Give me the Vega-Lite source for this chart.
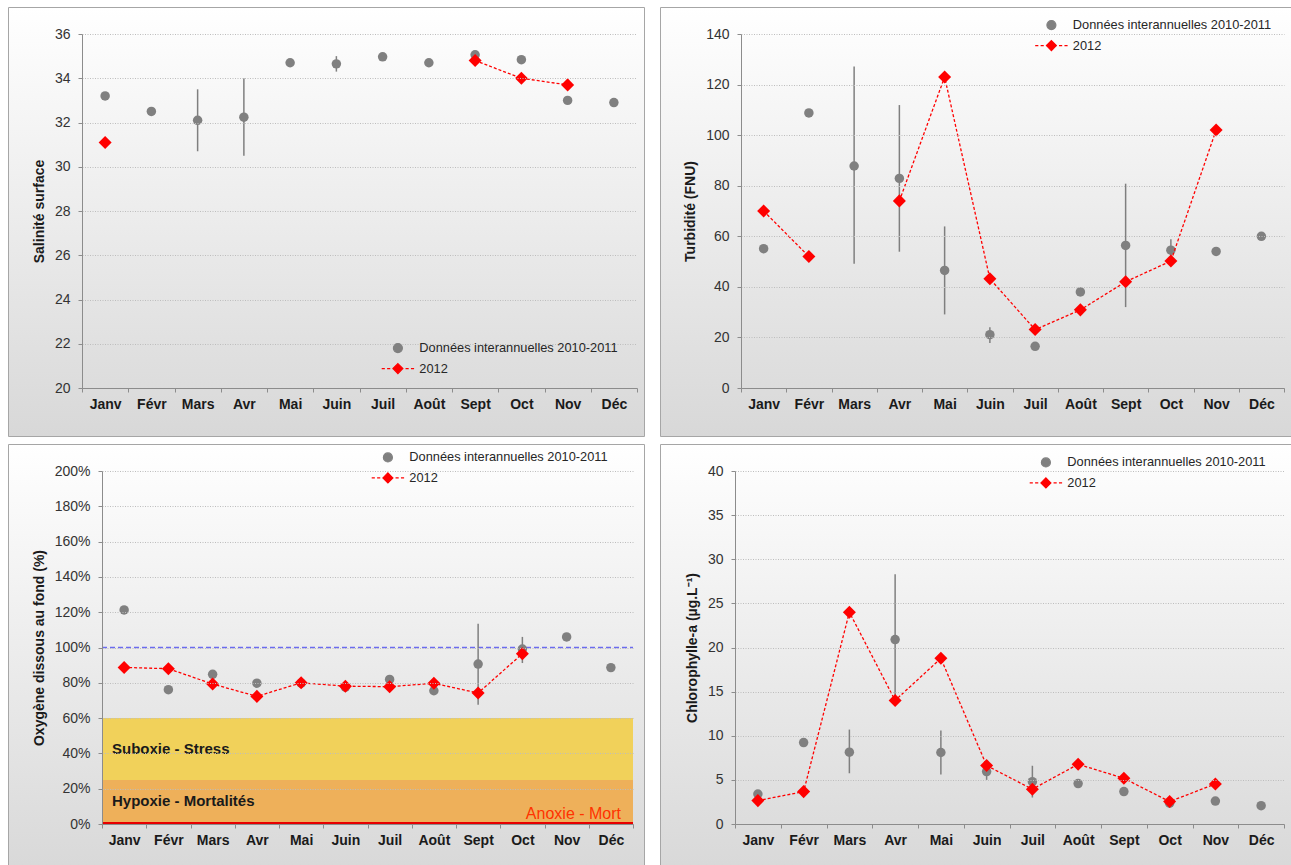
{
  "$schema": "https://vega.github.io/schema/vega-lite/v6.json",
  "background": "white",
  "padding": {"left": 7, "top": 6, "right": 0, "bottom": 0},
  "spacing": 6,
  "resolve": {"scale": {"color": "independent", "stroke": "independent", "shape": "independent"}, "legend": {"color": "independent", "stroke": "independent", "shape": "independent"}},
  "config": {
    "font": "Liberation Sans",
    "view": {"stroke": "#a6a6a6", "strokeWidth": 1},
    "axis": {"labelFont": "Liberation Sans", "titleFont": "Liberation Sans"},
    "legend": {"labelFont": "Liberation Sans"},
    "concat": {"spacing": 14}
  },
  "datasets": {
    "leg": [{"k": "Données interannuelles 2010-2011"}, {"k": "2012"}],
    "sal": [
      {"m": "Janv", "g": 33.2, "lo": null, "hi": null, "r": 31.1},
      {"m": "Févr", "g": 32.5, "lo": null, "hi": null, "r": null},
      {"m": "Mars", "g": 32.1, "lo": 30.7, "hi": 33.5, "r": null},
      {"m": "Avr", "g": 32.24, "lo": 30.5, "hi": 34.0, "r": null},
      {"m": "Mai", "g": 34.7, "lo": null, "hi": null, "r": null},
      {"m": "Juin", "g": 34.65, "lo": 34.3, "hi": 35.0, "r": null},
      {"m": "Juil", "g": 34.97, "lo": null, "hi": null, "r": null},
      {"m": "Août", "g": 34.7, "lo": null, "hi": null, "r": null},
      {"m": "Sept", "g": 35.06, "lo": 34.9, "hi": 35.2, "r": 34.8},
      {"m": "Oct", "g": 34.84, "lo": null, "hi": null, "r": 34.0},
      {"m": "Nov", "g": 33.0, "lo": null, "hi": null, "r": 33.7},
      {"m": "Déc", "g": 32.9, "lo": null, "hi": null, "r": null}
    ],
    "turb": [
      {"m": "Janv", "g": 55.1, "lo": null, "hi": null, "r": 70},
      {"m": "Févr", "g": 108.8, "lo": null, "hi": null, "r": 52},
      {"m": "Mars", "g": 87.8, "lo": 49.1, "hi": 127.1, "r": null},
      {"m": "Avr", "g": 82.9, "lo": 53.9, "hi": 111.9, "r": 74},
      {"m": "Mai", "g": 46.5, "lo": 29.1, "hi": 63.9, "r": 123},
      {"m": "Juin", "g": 21.1, "lo": 17.8, "hi": 24.0, "r": 43.2},
      {"m": "Juil", "g": 16.5, "lo": null, "hi": null, "r": 23.1},
      {"m": "Août", "g": 38.0, "lo": null, "hi": null, "r": 30.9},
      {"m": "Sept", "g": 56.4, "lo": 32.0, "hi": 80.8, "r": 42.0},
      {"m": "Oct", "g": 54.5, "lo": 50.2, "hi": 58.8, "r": 50.2},
      {"m": "Nov", "g": 54.0, "lo": null, "hi": null, "r": 102},
      {"m": "Déc", "g": 60.0, "lo": null, "hi": null, "r": null}
    ],
    "oxy": [
      {"m": "Janv", "g": 121.3, "lo": null, "hi": null, "r": 88.7},
      {"m": "Févr", "g": 76.1, "lo": null, "hi": null, "r": 88.0},
      {"m": "Mars", "g": 84.8, "lo": null, "hi": null, "r": 79.3},
      {"m": "Avr", "g": 79.8, "lo": null, "hi": null, "r": 72.3},
      {"m": "Mai", "g": 79.8, "lo": null, "hi": null, "r": 80.0},
      {"m": "Juin", "g": 77.6, "lo": null, "hi": null, "r": 78.1},
      {"m": "Juil", "g": 81.9, "lo": null, "hi": null, "r": 77.8},
      {"m": "Août", "g": 75.5, "lo": null, "hi": null, "r": 79.7},
      {"m": "Sept", "g": 90.6, "lo": 67.5, "hi": 113.5, "r": 74.2},
      {"m": "Oct", "g": 99.1, "lo": 91.2, "hi": 106.0, "r": 96.5},
      {"m": "Nov", "g": 106.0, "lo": null, "hi": null, "r": null},
      {"m": "Déc", "g": 88.6, "lo": null, "hi": null, "r": null}
    ],
    "chl": [
      {"m": "Janv", "g": 3.4, "lo": null, "hi": null, "r": 2.65},
      {"m": "Févr", "g": 9.23, "lo": null, "hi": null, "r": 3.67},
      {"m": "Mars", "g": 8.14, "lo": 5.75, "hi": 10.7, "r": 24.0},
      {"m": "Avr", "g": 20.9, "lo": 13.6, "hi": 28.3, "r": 14.0},
      {"m": "Mai", "g": 8.1, "lo": 5.6, "hi": 10.6, "r": 18.77},
      {"m": "Juin", "g": 5.94, "lo": 5.0, "hi": 6.9, "r": 6.62},
      {"m": "Juil", "g": 4.8, "lo": 3.0, "hi": 6.6, "r": 3.94},
      {"m": "Août", "g": 4.58, "lo": null, "hi": null, "r": 6.77},
      {"m": "Sept", "g": 3.67, "lo": null, "hi": null, "r": 5.18},
      {"m": "Oct", "g": 2.35, "lo": null, "hi": null, "r": 2.54},
      {"m": "Nov", "g": 2.6, "lo": null, "hi": null, "r": 4.54},
      {"m": "Déc", "g": 2.08, "lo": null, "hi": null, "r": null}
    ]
  },
  "vconcat": [
    {
      "resolve": {"scale": {"color": "independent", "stroke": "independent", "shape": "independent"}, "legend": {"color": "independent", "stroke": "independent", "shape": "independent"}},
      "hconcat": [
        {
          "width": 636, "height": 429,
          "view": {"stroke": "#a6a6a6", "fill": {"gradient": "linear", "x1": 0, "y1": 0, "x2": 0, "y2": 1, "stops": [{"offset": 0, "color": "#ffffff"}, {"offset": 1, "color": "#d8d8d8"}]}},
          "layer": [
            {
              "data": {"name": "sal"},
              "mark": {"type": "rule", "color": "#7f7f7f", "strokeWidth": 1.5},
              "encoding": {
                "x": {"field": "m", "type": "ordinal", "sort": null, "scale": {"type": "band", "domain": ["Janv","Févr","Mars","Avr","Mai","Juin","Juil","Août","Sept","Oct","Nov","Déc"], "range": [74, 629], "paddingInner": 0, "paddingOuter": 0},
                  "axis": {"zindex": 1, "orient": "bottom", "offset": -48, "tickBand": "extent", "labelAngle": 0, "labelFontSize": 14, "labelFontWeight": "bold", "labelColor": "#1a1a1a", "tickSize": 4, "tickColor": "#8c8c8c", "domainColor": "#8c8c8c", "labelPadding": 5, "title": null, "grid": false}},
                "y": {"field": "lo", "type": "quantitative", "scale": {"domain": [20, 36], "range": [381, 27], "nice": false, "zero": false},
                  "axis": {"zindex": 1, "orient": "left", "offset": -74, "values": [20,21,22,23,24,25,26,27,28,29,30,31,32,33,34,35,36], "labelExpr": "datum.value % 2 === 0 ? datum.value : ''", "labelOverlap": false, "labelFontSize": 14, "labelColor": "#333333", "tickSize": 4, "tickColor": "#8c8c8c", "domainColor": "#8c8c8c", "labelPadding": 8, "grid": true, "gridColor": "#bdbdbd", "gridDash": [1, 1.5], "gridOpacity": {"condition": {"test": "datum.value % 2 === 0", "value": 1}, "value": 0}, "title": "Salinité surface", "titleFontSize": 14, "titleFontWeight": "bold", "titleColor": "#1a1a1a", "titlePadding": 8}},
                "y2": {"field": "hi"}
              }
            },
            {
              "data": {"name": "leg"},
              "mark": {"type": "point", "filled": true, "size": 81, "strokeWidth": 1.2, "opacity": 1},
              "encoding": {
                "y": {"field": "none", "type": "quantitative"},
                "color": {"field": "k", "type": "nominal", "scale": {"domain": ["Données interannuelles 2010-2011", "2012"], "range": ["#808080", "#ff0000"]}, "legend": {"orient": "none", "legendX": 383.5, "legendY": 334.7, "title": null, "padding": 0, "labelFontSize": 12.8, "labelColor": "#262626", "labelOffset": 15, "labelLimit": 0, "rowPadding": 5.5, "symbolSize": 81, "symbolStrokeWidth": 1.2, "zindex": 1}},
                "stroke": {"field": "k", "type": "nominal", "scale": {"domain": ["Données interannuelles 2010-2011", "2012"], "range": ["#808080", "#ff0000"]}, "legend": {"orient": "none", "legendX": 383.5, "legendY": 334.7, "title": null, "padding": 0, "labelFontSize": 12.8, "labelColor": "#262626", "labelOffset": 15, "labelLimit": 0, "rowPadding": 5.5, "symbolSize": 81, "symbolStrokeWidth": 1.2, "zindex": 1}},
                "shape": {"field": "k", "type": "nominal", "scale": {"domain": ["Données interannuelles 2010-2011", "2012"], "range": ["circle", "M-3.6,0H-2.9M-2.4,0H-1.7M-1.2,0H-0.6M0.6,0H1.2M1.7,0H2.4M2.9,0H3.6M0,-1.1L1.1,0L0,1.1L-1.1,0Z"]}, "legend": {"orient": "none", "legendX": 383.5, "legendY": 334.7, "title": null, "padding": 0, "labelFontSize": 12.8, "labelColor": "#262626", "labelOffset": 15, "labelLimit": 0, "rowPadding": 5.5, "symbolSize": 81, "symbolStrokeWidth": 1.2, "zindex": 1}}
              }
            },
            {
              "data": {"name": "sal"},
              "mark": {"type": "point", "filled": true, "shape": "circle", "size": 90, "opacity": 1, "color": "#808080"},
              "encoding": {
                "x": {"field": "m", "type": "ordinal", "sort": null},
                "y": {"field": "g", "type": "quantitative"}
              }
            },
            {
              "data": {"name": "sal"},
              "mark": {"type": "line", "color": "#ff0000", "strokeWidth": 1.3, "strokeDash": [3, 2], "invalid": "break-paths-show-domains"},
              "encoding": {
                "x": {"field": "m", "type": "ordinal", "sort": null},
                "y": {"field": "r", "type": "quantitative"}
              }
            },
            {
              "data": {"name": "sal"},
              "mark": {"type": "point", "filled": true, "shape": "diamond", "size": 170, "opacity": 1, "color": "#ff0000"},
              "encoding": {
                "x": {"field": "m", "type": "ordinal", "sort": null},
                "y": {"field": "r", "type": "quantitative"}
              }
            }
          ]
        },
        {
          "width": 634, "height": 429,
          "view": {"stroke": "#a6a6a6", "fill": {"gradient": "linear", "x1": 0, "y1": 0, "x2": 0, "y2": 1, "stops": [{"offset": 0, "color": "#ffffff"}, {"offset": 1, "color": "#d8d8d8"}]}},
          "layer": [
            {
              "data": {"name": "turb"},
              "mark": {"type": "rule", "color": "#7f7f7f", "strokeWidth": 1.5},
              "encoding": {
                "x": {"field": "m", "type": "ordinal", "sort": null, "scale": {"type": "band", "domain": ["Janv","Févr","Mars","Avr","Mai","Juin","Juil","Août","Sept","Oct","Nov","Déc"], "range": [81, 624], "paddingInner": 0, "paddingOuter": 0},
                  "axis": {"zindex": 1, "orient": "bottom", "offset": -48, "tickBand": "extent", "labelAngle": 0, "labelFontSize": 14, "labelFontWeight": "bold", "labelColor": "#1a1a1a", "tickSize": 4, "tickColor": "#8c8c8c", "domainColor": "#8c8c8c", "labelPadding": 5, "title": null, "grid": false}},
                "y": {"field": "lo", "type": "quantitative", "scale": {"domain": [0, 140], "range": [381, 27], "nice": false, "zero": false},
                  "axis": {"zindex": 1, "orient": "left", "offset": -81, "values": [0,10,20,30,40,50,60,70,80,90,100,110,120,130,140], "labelExpr": "datum.value % 20 === 0 ? datum.value : ''", "labelOverlap": false, "labelFontSize": 14, "labelColor": "#333333", "tickSize": 4, "tickColor": "#8c8c8c", "domainColor": "#8c8c8c", "labelPadding": 8, "grid": true, "gridColor": "#bdbdbd", "gridDash": [1, 1.5], "gridOpacity": {"condition": {"test": "datum.value % 20 === 0", "value": 1}, "value": 0}, "title": "Turbidité (FNU)", "titleFontSize": 14, "titleFontWeight": "bold", "titleColor": "#1a1a1a", "titlePadding": 8}},
                "y2": {"field": "hi"}
              }
            },
            {
              "data": {"name": "leg"},
              "mark": {"type": "point", "filled": true, "size": 81, "strokeWidth": 1.2, "opacity": 1},
              "encoding": {
                "y": {"field": "none", "type": "quantitative"},
                "color": {"field": "k", "type": "nominal", "scale": {"domain": ["Données interannuelles 2010-2011", "2012"], "range": ["#808080", "#ff0000"]}, "legend": {"orient": "none", "legendX": 385, "legendY": 11.7, "title": null, "padding": 0, "labelFontSize": 12.8, "labelColor": "#262626", "labelOffset": 15, "labelLimit": 0, "rowPadding": 5.5, "symbolSize": 81, "symbolStrokeWidth": 1.2, "zindex": 1}},
                "stroke": {"field": "k", "type": "nominal", "scale": {"domain": ["Données interannuelles 2010-2011", "2012"], "range": ["#808080", "#ff0000"]}, "legend": {"orient": "none", "legendX": 385, "legendY": 11.7, "title": null, "padding": 0, "labelFontSize": 12.8, "labelColor": "#262626", "labelOffset": 15, "labelLimit": 0, "rowPadding": 5.5, "symbolSize": 81, "symbolStrokeWidth": 1.2, "zindex": 1}},
                "shape": {"field": "k", "type": "nominal", "scale": {"domain": ["Données interannuelles 2010-2011", "2012"], "range": ["circle", "M-3.6,0H-2.9M-2.4,0H-1.7M-1.2,0H-0.6M0.6,0H1.2M1.7,0H2.4M2.9,0H3.6M0,-1.1L1.1,0L0,1.1L-1.1,0Z"]}, "legend": {"orient": "none", "legendX": 385, "legendY": 11.7, "title": null, "padding": 0, "labelFontSize": 12.8, "labelColor": "#262626", "labelOffset": 15, "labelLimit": 0, "rowPadding": 5.5, "symbolSize": 81, "symbolStrokeWidth": 1.2, "zindex": 1}}
              }
            },
            {
              "data": {"name": "turb"},
              "mark": {"type": "point", "filled": true, "shape": "circle", "size": 90, "opacity": 1, "color": "#808080"},
              "encoding": {
                "x": {"field": "m", "type": "ordinal", "sort": null},
                "y": {"field": "g", "type": "quantitative"}
              }
            },
            {
              "data": {"name": "turb"},
              "mark": {"type": "line", "color": "#ff0000", "strokeWidth": 1.3, "strokeDash": [3, 2], "invalid": "break-paths-show-domains"},
              "encoding": {
                "x": {"field": "m", "type": "ordinal", "sort": null},
                "y": {"field": "r", "type": "quantitative"}
              }
            },
            {
              "data": {"name": "turb"},
              "mark": {"type": "point", "filled": true, "shape": "diamond", "size": 170, "opacity": 1, "color": "#ff0000"},
              "encoding": {
                "x": {"field": "m", "type": "ordinal", "sort": null},
                "y": {"field": "r", "type": "quantitative"}
              }
            }
          ]
        }
      ]
    },
    {
      "resolve": {"scale": {"color": "independent", "stroke": "independent", "shape": "independent"}, "legend": {"color": "independent", "stroke": "independent", "shape": "independent"}},
      "hconcat": [
        {
          "width": 636, "height": 430,
          "view": {"stroke": "#a6a6a6", "fill": {"gradient": "linear", "x1": 0, "y1": 0, "x2": 0, "y2": 1, "stops": [{"offset": 0, "color": "#ffffff"}, {"offset": 1, "color": "#d8d8d8"}]}},
          "layer": [
            {
              "data": {"name": "oxy"},
              "mark": {"type": "rule", "color": "#7f7f7f", "strokeWidth": 1.5, "opacity": 0},
              "encoding": {
                "x": {"field": "m", "type": "ordinal", "sort": null, "scale": {"type": "band", "domain": ["Janv","Févr","Mars","Avr","Mai","Juin","Juil","Août","Sept","Oct","Nov","Déc"], "range": [94, 625], "paddingInner": 0, "paddingOuter": 0},
                  "axis": {"zindex": 1, "orient": "bottom", "offset": -50, "tickBand": "extent", "labelAngle": 0, "labelFontSize": 14, "labelFontWeight": "bold", "labelColor": "#1a1a1a", "tickSize": 4, "tickColor": "#8c8c8c", "domainColor": "#8c8c8c", "labelPadding": 5, "title": null, "grid": false}},
                "y": {"field": "lo", "type": "quantitative", "scale": {"domain": [0, 200], "range": [380, 27], "nice": false, "zero": false},
                  "axis": {"zindex": 1, "orient": "left", "offset": -94, "values": [0,10,20,30,40,50,60,70,80,90,100,110,120,130,140,150,160,170,180,190,200], "labelExpr": "datum.value % 20 === 0 ? datum.value + '%' : ''", "labelOverlap": false, "labelFontSize": 14, "labelColor": "#333333", "tickSize": 4, "tickColor": "#8c8c8c", "domainColor": "#8c8c8c", "labelPadding": 8, "grid": true, "gridColor": "#bdbdbd", "gridDash": [1, 1.5], "gridOpacity": {"condition": {"test": "datum.value % 20 === 0", "value": 1}, "value": 0}, "title": "Oxygène dissous au fond (%)", "titleFontSize": 14, "titleFontWeight": "bold", "titleColor": "#1a1a1a", "titlePadding": 8}},
                "y2": {"field": "hi"}
              }
            },
            {
              "data": {"values": [{}]},
              "mark": {"type": "rect", "color": "#f1d15a"},
              "encoding": {
                "x": {"datum": "Janv", "type": "ordinal", "bandPosition": 0},
                "x2": {"datum": "Déc", "bandPosition": 1},
                "y": {"datum": 25, "type": "quantitative"},
                "y2": {"datum": 60}
              }
            },
            {
              "data": {"values": [{}]},
              "mark": {"type": "rect", "color": "#eeb05a"},
              "encoding": {
                "x": {"datum": "Janv", "type": "ordinal", "bandPosition": 0},
                "x2": {"datum": "Déc", "bandPosition": 1},
                "y": {"datum": 0, "type": "quantitative"},
                "y2": {"datum": 25}
              }
            },
            {
              "data": {"values": [{}]},
              "mark": {"type": "rect", "color": "#e80000"},
              "encoding": {
                "x": {"datum": "Janv", "type": "ordinal", "bandPosition": 0},
                "x2": {"datum": "Déc", "bandPosition": 1},
                "y": {"datum": 0, "type": "quantitative"},
                "y2": {"datum": 1.2}
              }
            },
            {
              "data": {"values": [{}]},
              "mark": {"type": "rule", "color": "#6b6bf0", "strokeWidth": 1.3, "strokeDash": [5, 3]},
              "encoding": {
                "x": {"datum": "Janv", "type": "ordinal", "bandPosition": 0},
                "x2": {"datum": "Déc", "bandPosition": 1},
                "y": {"datum": 100, "type": "quantitative"}
              }
            },
            {
              "data": {"values": [{}]},
              "mark": {"type": "text", "text": "Suboxie - Stress", "align": "left", "baseline": "middle", "dx": 10, "fontSize": 15, "fontWeight": "bold", "color": "#1a1a1a"},
              "encoding": {
                "x": {"datum": "Janv", "type": "ordinal", "bandPosition": 0},
                "y": {"datum": 42.4, "type": "quantitative"}
              }
            },
            {
              "data": {"values": [{}]},
              "mark": {"type": "text", "text": "Hypoxie - Mortalités", "align": "left", "baseline": "middle", "dx": 10, "fontSize": 15, "fontWeight": "bold", "color": "#1a1a1a"},
              "encoding": {
                "x": {"datum": "Janv", "type": "ordinal", "bandPosition": 0},
                "y": {"datum": 12.9, "type": "quantitative"}
              }
            },
            {
              "data": {"values": [{}]},
              "mark": {"type": "text", "text": "Anoxie - Mort", "align": "right", "baseline": "middle", "dx": -12, "fontSize": 16, "color": "#ff3300"},
              "encoding": {
                "x": {"datum": "Déc", "type": "ordinal", "bandPosition": 1},
                "y": {"datum": 5.5, "type": "quantitative"}
              }
            },
            {
              "data": {"name": "oxy"},
              "mark": {"type": "rule", "color": "#7f7f7f", "strokeWidth": 1.5},
              "encoding": {
                "x": {"field": "m", "type": "ordinal", "sort": null},
                "y": {"field": "lo", "type": "quantitative"},
                "y2": {"field": "hi"}
              }
            },
            {
              "data": {"name": "leg"},
              "mark": {"type": "point", "filled": true, "size": 81, "strokeWidth": 1.2, "opacity": 1},
              "encoding": {
                "y": {"field": "none", "type": "quantitative"},
                "color": {"field": "k", "type": "nominal", "scale": {"domain": ["Données interannuelles 2010-2011", "2012"], "range": ["#808080", "#ff0000"]}, "legend": {"orient": "none", "legendX": 373.5, "legendY": 7, "title": null, "padding": 0, "labelFontSize": 12.8, "labelColor": "#262626", "labelOffset": 15, "labelLimit": 0, "rowPadding": 5.5, "symbolSize": 81, "symbolStrokeWidth": 1.2, "zindex": 1}},
                "stroke": {"field": "k", "type": "nominal", "scale": {"domain": ["Données interannuelles 2010-2011", "2012"], "range": ["#808080", "#ff0000"]}, "legend": {"orient": "none", "legendX": 373.5, "legendY": 7, "title": null, "padding": 0, "labelFontSize": 12.8, "labelColor": "#262626", "labelOffset": 15, "labelLimit": 0, "rowPadding": 5.5, "symbolSize": 81, "symbolStrokeWidth": 1.2, "zindex": 1}},
                "shape": {"field": "k", "type": "nominal", "scale": {"domain": ["Données interannuelles 2010-2011", "2012"], "range": ["circle", "M-3.6,0H-2.9M-2.4,0H-1.7M-1.2,0H-0.6M0.6,0H1.2M1.7,0H2.4M2.9,0H3.6M0,-1.1L1.1,0L0,1.1L-1.1,0Z"]}, "legend": {"orient": "none", "legendX": 373.5, "legendY": 7, "title": null, "padding": 0, "labelFontSize": 12.8, "labelColor": "#262626", "labelOffset": 15, "labelLimit": 0, "rowPadding": 5.5, "symbolSize": 81, "symbolStrokeWidth": 1.2, "zindex": 1}}
              }
            },
            {
              "data": {"name": "oxy"},
              "mark": {"type": "point", "filled": true, "shape": "circle", "size": 90, "opacity": 1, "color": "#808080"},
              "encoding": {
                "x": {"field": "m", "type": "ordinal", "sort": null},
                "y": {"field": "g", "type": "quantitative"}
              }
            },
            {
              "data": {"name": "oxy"},
              "mark": {"type": "line", "color": "#ff0000", "strokeWidth": 1.3, "strokeDash": [3, 2], "invalid": "break-paths-show-domains"},
              "encoding": {
                "x": {"field": "m", "type": "ordinal", "sort": null},
                "y": {"field": "r", "type": "quantitative"}
              }
            },
            {
              "data": {"name": "oxy"},
              "mark": {"type": "point", "filled": true, "shape": "diamond", "size": 170, "opacity": 1, "color": "#ff0000"},
              "encoding": {
                "x": {"field": "m", "type": "ordinal", "sort": null},
                "y": {"field": "r", "type": "quantitative"}
              }
            }
          ]
        },
        {
          "width": 634, "height": 430,
          "view": {"stroke": "#a6a6a6", "fill": {"gradient": "linear", "x1": 0, "y1": 0, "x2": 0, "y2": 1, "stops": [{"offset": 0, "color": "#ffffff"}, {"offset": 1, "color": "#d8d8d8"}]}},
          "layer": [
            {
              "data": {"name": "chl"},
              "mark": {"type": "rule", "color": "#7f7f7f", "strokeWidth": 1.5},
              "encoding": {
                "x": {"field": "m", "type": "ordinal", "sort": null, "scale": {"type": "band", "domain": ["Janv","Févr","Mars","Avr","Mai","Juin","Juil","Août","Sept","Oct","Nov","Déc"], "range": [75, 624], "paddingInner": 0, "paddingOuter": 0},
                  "axis": {"zindex": 1, "orient": "bottom", "offset": -50, "tickBand": "extent", "labelAngle": 0, "labelFontSize": 14, "labelFontWeight": "bold", "labelColor": "#1a1a1a", "tickSize": 4, "tickColor": "#8c8c8c", "domainColor": "#8c8c8c", "labelPadding": 5, "title": null, "grid": false}},
                "y": {"field": "lo", "type": "quantitative", "scale": {"domain": [0, 40], "range": [380, 27], "nice": false, "zero": false},
                  "axis": {"zindex": 1, "orient": "left", "offset": -75, "values": [0,2.5,5,7.5,10,12.5,15,17.5,20,22.5,25,27.5,30,32.5,35,37.5,40], "labelExpr": "datum.value % 5 === 0 ? datum.value : ''", "labelOverlap": false, "labelFontSize": 14, "labelColor": "#333333", "tickSize": 4, "tickColor": "#8c8c8c", "domainColor": "#8c8c8c", "labelPadding": 8, "grid": true, "gridColor": "#bdbdbd", "gridDash": [1, 1.5], "gridOpacity": {"condition": {"test": "datum.value % 5 === 0", "value": 1}, "value": 0}, "title": "Chlorophylle-a (µg.L⁻¹)", "titleFontSize": 14, "titleFontWeight": "bold", "titleColor": "#1a1a1a", "titlePadding": 8}},
                "y2": {"field": "hi"}
              }
            },
            {
              "data": {"name": "leg"},
              "mark": {"type": "point", "filled": true, "size": 81, "strokeWidth": 1.2, "opacity": 1},
              "encoding": {
                "y": {"field": "none", "type": "quantitative"},
                "color": {"field": "k", "type": "nominal", "scale": {"domain": ["Données interannuelles 2010-2011", "2012"], "range": ["#808080", "#ff0000"]}, "legend": {"orient": "none", "legendX": 379.5, "legendY": 12, "title": null, "padding": 0, "labelFontSize": 12.8, "labelColor": "#262626", "labelOffset": 15, "labelLimit": 0, "rowPadding": 5.5, "symbolSize": 81, "symbolStrokeWidth": 1.2, "zindex": 1}},
                "stroke": {"field": "k", "type": "nominal", "scale": {"domain": ["Données interannuelles 2010-2011", "2012"], "range": ["#808080", "#ff0000"]}, "legend": {"orient": "none", "legendX": 379.5, "legendY": 12, "title": null, "padding": 0, "labelFontSize": 12.8, "labelColor": "#262626", "labelOffset": 15, "labelLimit": 0, "rowPadding": 5.5, "symbolSize": 81, "symbolStrokeWidth": 1.2, "zindex": 1}},
                "shape": {"field": "k", "type": "nominal", "scale": {"domain": ["Données interannuelles 2010-2011", "2012"], "range": ["circle", "M-3.6,0H-2.9M-2.4,0H-1.7M-1.2,0H-0.6M0.6,0H1.2M1.7,0H2.4M2.9,0H3.6M0,-1.1L1.1,0L0,1.1L-1.1,0Z"]}, "legend": {"orient": "none", "legendX": 379.5, "legendY": 12, "title": null, "padding": 0, "labelFontSize": 12.8, "labelColor": "#262626", "labelOffset": 15, "labelLimit": 0, "rowPadding": 5.5, "symbolSize": 81, "symbolStrokeWidth": 1.2, "zindex": 1}}
              }
            },
            {
              "data": {"name": "chl"},
              "mark": {"type": "point", "filled": true, "shape": "circle", "size": 90, "opacity": 1, "color": "#808080"},
              "encoding": {
                "x": {"field": "m", "type": "ordinal", "sort": null},
                "y": {"field": "g", "type": "quantitative"}
              }
            },
            {
              "data": {"name": "chl"},
              "mark": {"type": "line", "color": "#ff0000", "strokeWidth": 1.3, "strokeDash": [3, 2], "invalid": "break-paths-show-domains"},
              "encoding": {
                "x": {"field": "m", "type": "ordinal", "sort": null},
                "y": {"field": "r", "type": "quantitative"}
              }
            },
            {
              "data": {"name": "chl"},
              "mark": {"type": "point", "filled": true, "shape": "diamond", "size": 170, "opacity": 1, "color": "#ff0000"},
              "encoding": {
                "x": {"field": "m", "type": "ordinal", "sort": null},
                "y": {"field": "r", "type": "quantitative"}
              }
            }
          ]
        }
      ]
    }
  ]
}
